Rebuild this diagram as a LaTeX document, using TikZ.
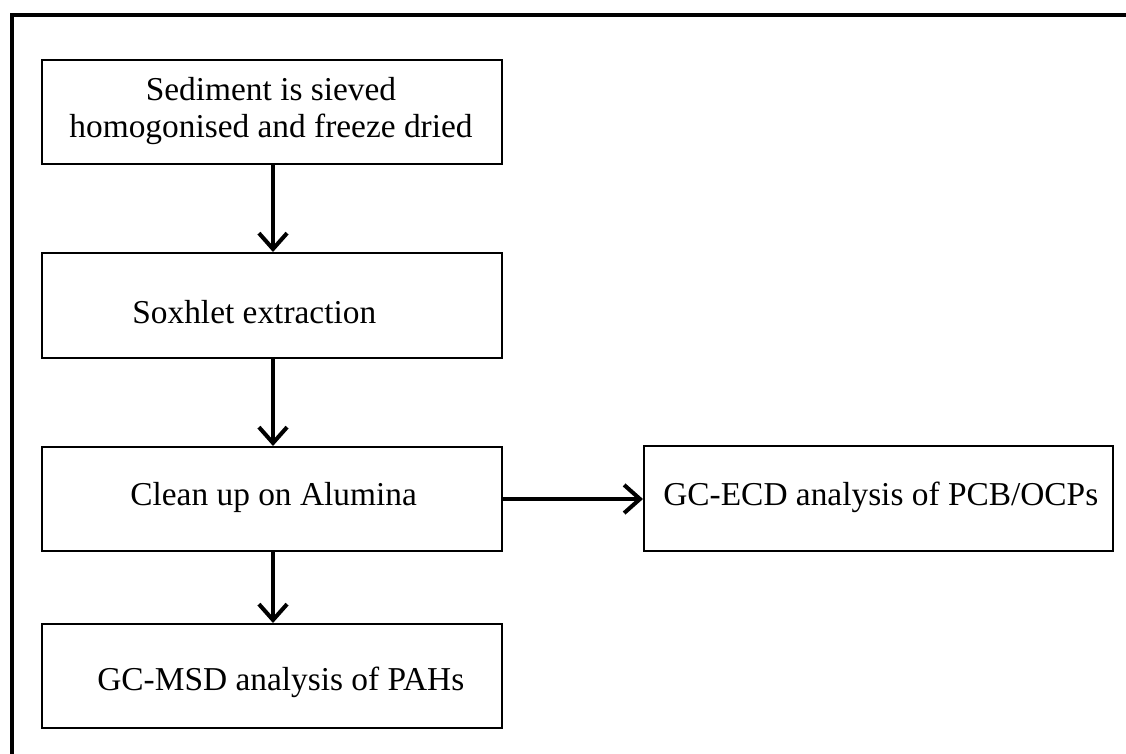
\documentclass[tikz,border=0pt]{standalone}
\usepackage{fontspec}
\setmainfont{Liberation Serif}
\usetikzlibrary{arrows.meta}
\begin{document}
\begin{tikzpicture}[x=0.02cm,y=-0.02cm,
  box/.style={draw,line width=1.4pt,inner sep=0pt,anchor=north west},
  lbl/.style={anchor=west,inner sep=0pt,font=\fontsize{19}{21}\selectfont},
  flow/.style={line width=2.3pt,-{Straight Barb[length=9pt,width=16pt]}}]
\useasboundingbox (0,0) rectangle (1126,754);
\draw[line width=2.6pt] (12,770) -- (12,15) -- (1140,15);
\node[box,minimum width=9.2cm,minimum height=2.08cm] (b1) at (41,59) {};
\node[box,minimum width=9.2cm,minimum height=2.1cm] (b2) at (41,252) {};
\node[box,minimum width=9.2cm,minimum height=2.08cm] (b3) at (41,446) {};
\node[box,minimum width=9.2cm,minimum height=2.08cm] (b5) at (41,623) {};
\node[box,minimum width=9.38cm,minimum height=2.1cm] (b4) at (643,445) {};
\node[align=center,inner sep=0pt,font=\fontsize{19}{21}\selectfont] (t1) at (271,111) {Sediment is sieved\\homogonised and freeze dried};
\node[lbl] (t2) at (132,312) {Soxhlet extraction};
\node[lbl] (t3) at (130,497) {Clean up on Alumina};
\node[lbl] (t5) at (97,682) {GC-MSD analysis of PAHs};
\node[lbl] (t4) at (663,497) {GC-ECD analysis of PCB/OCPs};
\draw[flow] (b1.south -| 273,0) -- (b2.north -| 273,0);
\draw[flow] (b2.south -| 273,0) -- (b3.north -| 273,0);
\draw[flow] (b3.south -| 273,0) -- (b5.north -| 273,0);
\draw[flow] (b3.east |- 0,499) -- (b4.west |- 0,499);
\end{tikzpicture}
\end{document}
